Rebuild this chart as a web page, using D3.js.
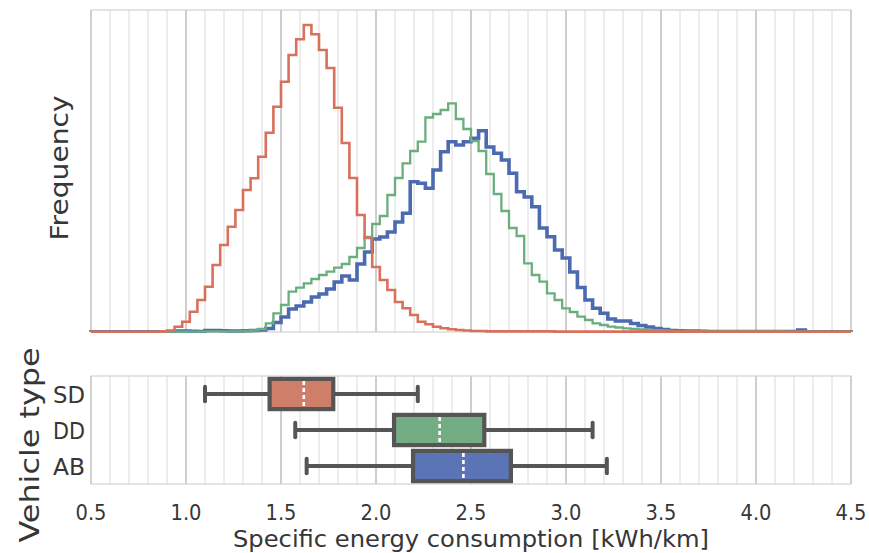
<!DOCTYPE html>
<html>
<head>
<meta charset="utf-8">
<script src="https://cdn.jsdelivr.net/npm/d3@7"></script>
<style>
  body { margin: 0; background: #fff; }
  svg { display: block; }
  text { font-family: "DejaVu Sans", sans-serif; fill: #363636; }
</style>
</head>
<body>
<svg id="chart" width="869" height="553"></svg>
<script>
// Histogram bins: 100 bins of 0.04 kWh/km covering 0.5 – 4.5
const binStart = 0.5;
const binWidth = 0.04;
const binCount = 100;

const vehicleTypes = ["SD", "DD", "AB"];

// Bin counts per vehicle type (arbitrary frequency units)
const countsSD = [
  0.1, 0.1, 0.1, 0.1, 0.1, 0.1, 0.1, 0.1, 0.3, 0.6,
  1.5, 5.3, 10.3, 20.3, 32, 45.3, 67, 87, 105.3, 122,
  142, 153.7, 175.3, 199.3, 225.3, 250.3, 277, 292.7, 307, 297.7,
  282, 264, 224.3, 189, 154, 117, 94, 65, 52, 42,
  30, 23.7, 17, 10.3, 7.7, 5.3, 3.7, 2.7, 2, 1.5,
  1, 1, 0.6, 0.6, 0.6, 0.6, 0.6, 0.6, 0.6, 0.6,
  0.6, 0.4, 0.4, 0.4, 0.4, 0.4, 0.4, 0.4, 0.4, 0.4,
  0.4, 0.4, 0.4, 0.4, 0.4, 0.4, 0.4, 0.4, 0.4, 0.4,
  0.4, 0.2, 0.2, 0.2, 0.2, 0.2, 0.2, 0.2, 0.2, 0.2,
  0.2, 0.2, 0.2, 0.2, 0.2, 0.2, 0.2, 0.2, 0.2, 0.2
];
const countsDD = [
  0.2, 0.2, 0.2, 0.2, 0.2, 0.2, 0.2, 0.2, 0.2, 0.2,
  0.4, 0.4, 0.4, 0.4, 0.4, 0.7, 0.7, 0.7, 0.7, 0.7,
  1, 1.5, 3, 8.7, 18.7, 27, 40.3, 44.3, 48.7, 53,
  57, 60.3, 64.3, 68, 75, 84, 95, 108, 116, 137,
  154, 168.7, 181, 190.3, 214.5, 218, 222, 228.7, 213, 203,
  191, 181, 158, 138, 121, 104, 96, 68.7, 57, 50.3,
  38.7, 32, 23.7, 20, 15.3, 12, 8.7, 7, 5.3, 4.5,
  3.7, 3, 2.5, 2, 1.8, 1.5, 1, 1, 1, 1,
  1, 0.5, 0.5, 0.5, 0.5, 0.5, 0.5, 0.5, 0.5, 0.5,
  0.5, 0.3, 0.3, 0.3, 0.3, 0.3, 0.3, 0.3, 0.3, 0.3
];
const countsAB = [
  0.2, 0.2, 0.2, 0.2, 0.2, 0.2, 0.2, 0.2, 0.2, 0.2,
  0.2, 1, 1, 0.8, 0.5, 1.5, 1.5, 1.2, 1, 1,
  1.2, 1.5, 2, 3.5, 9.5, 15, 23, 26, 30, 35,
  38, 43, 50, 56, 52, 68, 80, 93, 95, 100,
  110, 118.7, 150.3, 148.7, 143.7, 162, 180.3, 190.3, 187, 190.3,
  193.7, 201.3, 185, 178.7, 172, 158.7, 140.3, 135, 125.3, 104,
  95.3, 82, 74, 60, 44.5, 32, 23.7, 18.7, 13, 11,
  11, 8.5, 6.5, 5, 3.5, 2.5, 1.5, 1.2, 1, 1,
  0.8, 0.4, 0.4, 0.4, 0.4, 0.4, 0.4, 0.4, 0.4, 0.4,
  0.4, 0.4, 0.4, 2, 0.3, 0.3, 0.3, 0.3, 0.3, 0.3
];

// Box plot summary per vehicle type (kWh/km), same order as vehicleTypes
const whiskerLow  = [1.10, 1.575, 1.635];
const quartile1   = [1.44, 2.095, 2.195];
const medians     = [1.62, 2.335, 2.46];
const quartile3   = [1.775, 2.57, 2.71];
const whiskerHigh = [2.22, 3.14, 3.215];

const xTicks = [0.5, 1.0, 1.5, 2.0, 2.5, 3.0, 3.5, 4.0, 4.5];

const lineColor = { SD: "#d8705c", DD: "#6aae7e", AB: "#4c6aaf" };
const lineWidth = { SD: 2.6, DD: 2.3, AB: 3.6 };
const boxFill   = { SD: "#cf7f69", DD: "#74ad84", AB: "#5b74b5" };
const countsByType = { SD: countsSD, DD: countsDD, AB: countsAB };

const svg = d3.select("#chart");

const left = 91, right = 851;
const histTop = 10, histBottom = 332;
const boxTop = 376, boxBottom = 484;

const x = d3.scaleLinear().domain([0.5, 4.5]).range([left, right]);
const y = d3.scaleLinear().domain([0, 322]).range([histBottom, histTop]);
const band = d3.scaleBand().domain(vehicleTypes).range([boxTop, boxBottom]);

const minorGrid = d3.range(5, 46).map(i => i / 10);

// Vertical grid lines in both panels
function drawGrid(g, top, bottom) {
  g.selectAll("line.minor")
    .data(minorGrid.filter(v => Math.round(v * 10) % 5 !== 0))
    .join("line")
    .attr("x1", d => x(d)).attr("x2", d => x(d))
    .attr("y1", top).attr("y2", bottom)
    .attr("stroke", "#dadada").attr("stroke-width", 1);
  g.selectAll("line.major")
    .data(xTicks)
    .join("line")
    .attr("x1", d => x(d)).attr("x2", d => x(d))
    .attr("y1", top).attr("y2", bottom)
    .attr("stroke", "#c9c9c9").attr("stroke-width", 1.8);
  g.append("rect")
    .attr("x", left).attr("y", top)
    .attr("width", right - left).attr("height", bottom - top)
    .attr("fill", "none").attr("stroke", "#d2d2d2").attr("stroke-width", 1.2);
}

drawGrid(svg.append("g"), histTop, histBottom);
drawGrid(svg.append("g"), boxTop, boxBottom);

// Step histograms
const step = d3.line().x(d => x(d[0])).y(d => y(d[1]));
const edge = i => binStart + i * binWidth;

svg.append("defs").append("clipPath").attr("id", "histClip")
  .append("rect").attr("x", left - 2).attr("y", histTop)
  .attr("width", right - left + 4).attr("height", histBottom - histTop + 1);

const histG = svg.append("g").attr("clip-path", "url(#histClip)");
["AB", "DD", "SD"].forEach(type => {
  const counts = countsByType[type];
  const pts = [[edge(0), 0]];
  counts.slice(0, binCount).forEach((c, i) => {
    pts.push([edge(i), c]);
    pts.push([edge(i + 1), c]);
  });
  pts.push([edge(binCount), 0]);
  histG.append("path")
    .attr("d", step(pts))
    .attr("fill", "none")
    .attr("stroke", lineColor[type])
    .attr("stroke-width", lineWidth[type])
    .attr("stroke-linejoin", "miter");
});

// Box plots
const boxG = svg.append("g");
const boxH = band.bandwidth() * 0.84;
const capH = band.bandwidth() * 0.4;
const edgeColor = "#555555";

vehicleTypes.forEach((type, i) => {
  const cy = band(type) + band.bandwidth() / 2;
  const g = boxG.append("g");
  // whiskers
  g.append("line")
    .attr("x1", x(whiskerLow[i])).attr("x2", x(quartile1[i]))
    .attr("y1", cy).attr("y2", cy)
    .attr("stroke", edgeColor).attr("stroke-width", 4);
  g.append("line")
    .attr("x1", x(quartile3[i])).attr("x2", x(whiskerHigh[i]))
    .attr("y1", cy).attr("y2", cy)
    .attr("stroke", edgeColor).attr("stroke-width", 4);
  // caps
  [whiskerLow[i], whiskerHigh[i]].forEach(v => {
    g.append("line")
      .attr("x1", x(v)).attr("x2", x(v))
      .attr("y1", cy - capH / 2).attr("y2", cy + capH / 2)
      .attr("stroke", edgeColor).attr("stroke-width", 4)
      .attr("stroke-linecap", "round");
  });
  // box
  g.append("rect")
    .attr("x", x(quartile1[i])).attr("y", cy - boxH / 2)
    .attr("width", x(quartile3[i]) - x(quartile1[i])).attr("height", boxH)
    .attr("fill", boxFill[type])
    .attr("stroke", edgeColor).attr("stroke-width", 4.2);
  // median
  g.append("line")
    .attr("x1", x(medians[i])).attr("x2", x(medians[i]))
    .attr("y1", cy - boxH / 2 + 2).attr("y2", cy + boxH / 2 - 2)
    .attr("stroke", "#ffffff").attr("stroke-width", 2.6)
    .attr("stroke-dasharray", "4,3");
});

// Category labels
svg.append("g").selectAll("text")
  .data(vehicleTypes)
  .join("text")
  .attr("x", 85)
  .attr("y", d => band(d) + band.bandwidth() / 2)
  .attr("dy", "0.37em")
  .attr("text-anchor", "end")
  .attr("font-size", 23)
  .attr("textLength", 32)
  .attr("lengthAdjust", "spacingAndGlyphs")
  .text(d => d);

// X tick labels
svg.append("g").selectAll("text")
  .data(xTicks)
  .join("text")
  .attr("x", d => x(d))
  .attr("y", 520)
  .attr("text-anchor", "middle")
  .attr("font-size", 22)
  .attr("textLength", 31)
  .attr("lengthAdjust", "spacingAndGlyphs")
  .text(d => d3.format(".1f")(d));

// Axis titles
svg.append("text")
  .attr("x", (left + right) / 2).attr("y", 547)
  .attr("text-anchor", "middle")
  .attr("font-size", 23)
  .attr("textLength", 476)
  .attr("lengthAdjust", "spacingAndGlyphs")
  .text("Specific energy consumption [kWh/km]");

svg.append("text")
  .attr("transform", "translate(68,168) rotate(-90)")
  .attr("text-anchor", "middle")
  .attr("font-size", 25)
  .attr("textLength", 145)
  .attr("lengthAdjust", "spacingAndGlyphs")
  .text("Frequency");

svg.append("text")
  .attr("transform", "translate(39,445) rotate(-90)")
  .attr("text-anchor", "middle")
  .attr("font-size", 26)
  .attr("textLength", 195)
  .attr("lengthAdjust", "spacingAndGlyphs")
  .text("Vehicle type");
</script>
</body>
</html>
